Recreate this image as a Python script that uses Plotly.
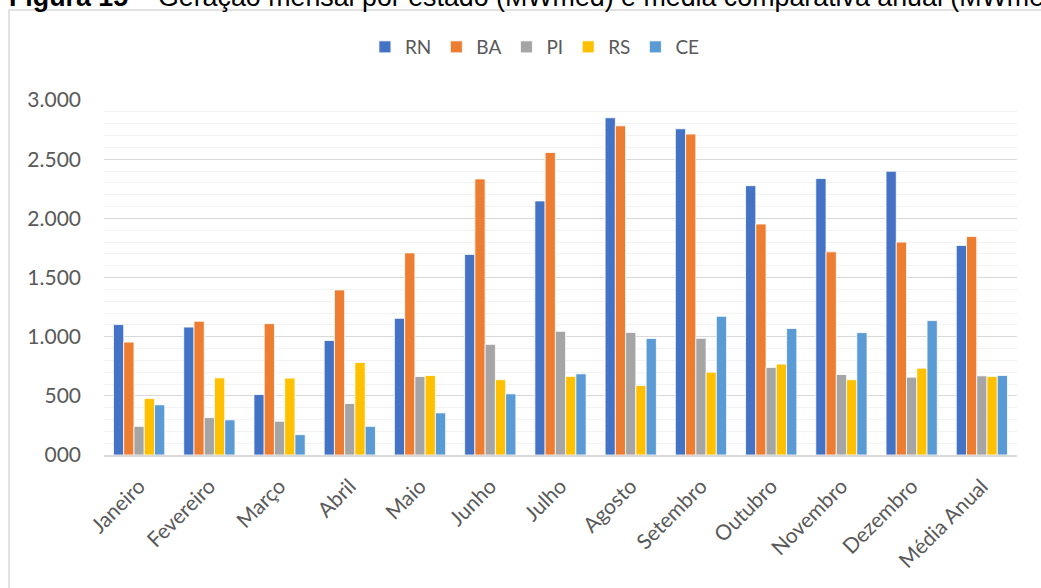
import plotly.graph_objects as go

categories = ["Janeiro", "Fevereiro", "Março", "Abril", "Maio", "Junho", "Julho",
              "Agosto", "Setembro", "Outubro", "Novembro", "Dezembro", "Média Anual"]
RN = [1102, 1081, 511, 968, 1155, 1695, 2147, 2850, 2757, 2276, 2336, 2398, 1771]
BA = [954, 1130, 1110, 1395, 1708, 2333, 2556, 2782, 2712, 1952, 1717, 1799, 1847]
PI = [242, 316, 285, 435, 663, 935, 1045, 1036, 986, 740, 680, 658, 669]
RS = [477, 652, 650, 782, 672, 636, 664, 587, 700, 768, 636, 734, 664]
CE = [424, 297, 172, 242, 356, 517, 686, 985, 1172, 1070, 1034, 1136, 672]
series_names = ["RN", "BA", "PI", "RS", "CE"]
series_colors = ["#4472C4", "#ED7D31", "#A5A5A5", "#FFC000", "#5B9BD5"]
y_tickvals = [0, 500, 1000, 1500, 2000, 2500, 3000]
y_ticktext = ["000", "500", "1.000", "1.500", "2.000", "2.500", "3.000"]
title_text = ("<b>Figura 15</b> – Geração mensal por estado (MWmed) e média "
              "comparativa anual (MWmed)")

W, H = 1041, 588
ml, mr, mt, mb = 104, 24, 100, 133
pw, ph = W - ml - mr, H - mt - mb

def px_x(x):
    return (x - ml) / pw

def px_y(y):
    return (H - mb - y) / ph

fig = go.Figure()
for name, vals, col in zip(series_names, [RN, BA, PI, RS, CE], series_colors):
    fig.add_trace(go.Bar(x=categories, y=vals, name=name,
                         marker=dict(color=col, line=dict(color="white", width=0.8))))

fig.update_layout(
    width=W, height=H,
    margin=dict(l=ml, r=mr, t=mt, b=mb),
    paper_bgcolor="white", plot_bgcolor="white",
    barmode="group", bargap=0.27, bargroupgap=0,
    font=dict(family="Lato", color="#595959", size=20),
    showlegend=True,
    legend=dict(orientation="h", x=0.472, xanchor="center", y=px_y(47), yanchor="middle",
                font=dict(size=19, color="#595959"), itemwidth=30,
                traceorder="normal"),
    xaxis=dict(showline=True, linecolor="#D9D9D9", linewidth=1.5, showgrid=False,
               tickangle=-45, tickfont=dict(size=21, color="#595959"), ticks="",
               ticklabelstandoff=9),
    yaxis=dict(range=[0, 3000], tickvals=y_tickvals, ticktext=y_ticktext,
               showgrid=True, gridcolor="#D9D9D9", gridwidth=1, zeroline=False,
               tickfont=dict(size=21, color="#595959"), ticks="",
               ticklabelstandoff=22,
               minor=dict(dtick=100, showgrid=True, gridcolor="#F2F2F2", gridwidth=1)),
    shapes=[dict(type="rect", xref="paper", yref="paper",
                 x0=px_x(9), x1=px_x(1060), y0=px_y(620), y1=px_y(10),
                 line=dict(color="#D9D9D9", width=1.5), fillcolor="rgba(0,0,0,0)",
                 layer="below")],
    annotations=[dict(text=title_text, xref="paper", yref="paper",
                      x=px_x(7), xanchor="left", y=px_y(-3), yanchor="middle",
                      showarrow=False,
                      font=dict(family="Arial", size=26.8, color="black"))],
)

fig.write_html("out.html")
